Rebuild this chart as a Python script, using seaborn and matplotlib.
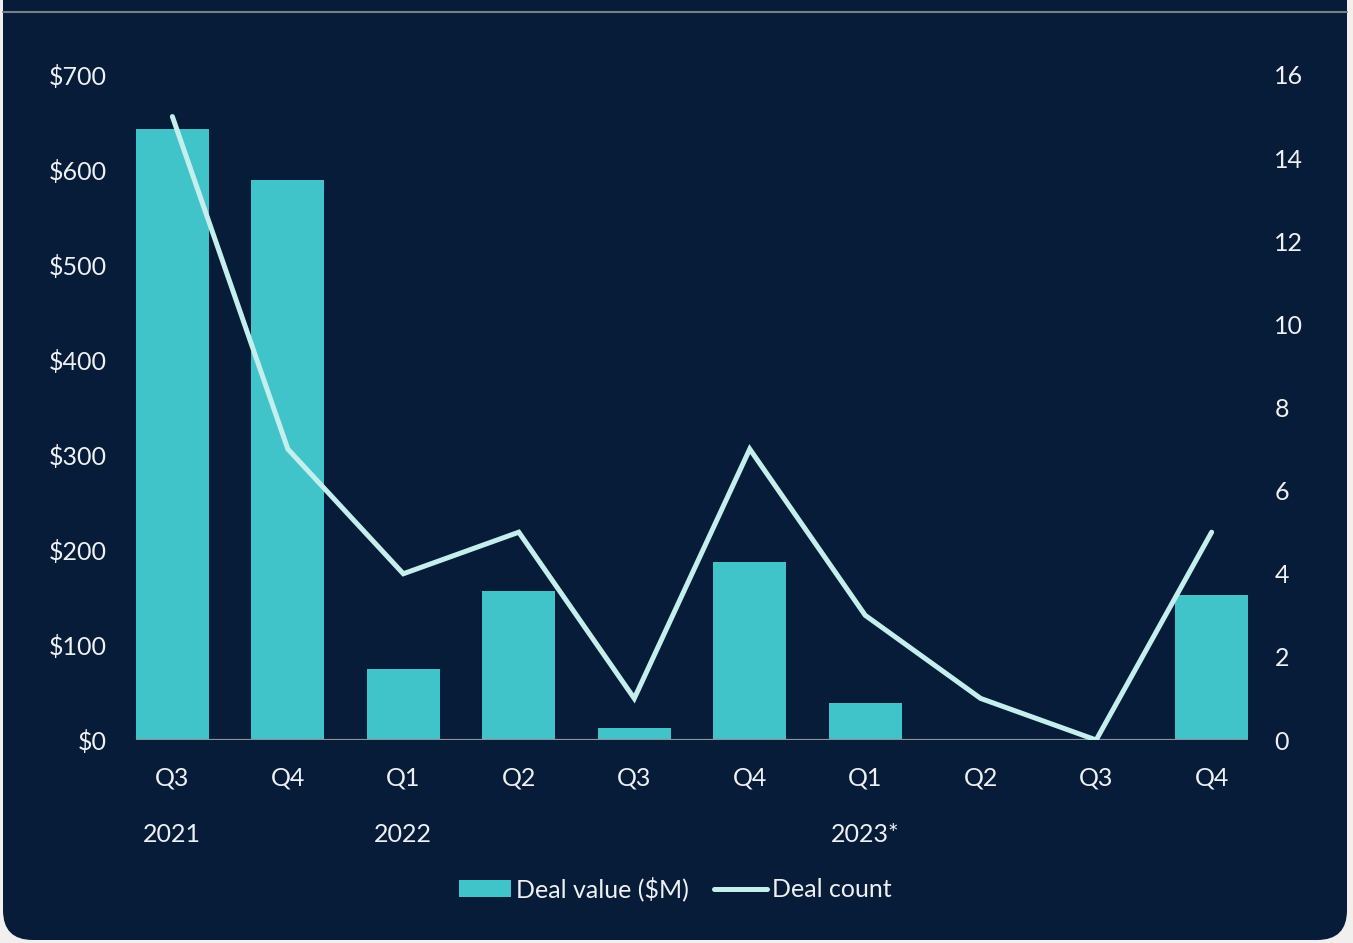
import matplotlib
matplotlib.use("Agg")
import matplotlib.pyplot as plt
from matplotlib.patches import FancyBboxPatch, Patch
from matplotlib.lines import Line2D
import matplotlib.transforms as mtransforms
import numpy as np
import pandas as pd
import seaborn as sns

# Quarterly deal data
quarters = ["Q3", "Q4", "Q1", "Q2", "Q3", "Q4", "Q1", "Q2", "Q3", "Q4"]
periods = ["2021 Q3", "2021 Q4", "2022 Q1", "2022 Q2", "2022 Q3",
           "2022 Q4", "2023 Q1", "2023 Q2", "2023 Q3", "2023 Q4"]
deal_value = [643, 589, 75, 157, 13, 187, 39, 0, 0, 153]
deal_count = [15, 7, 4, 5, 1, 7, 3, 1, 0, 5]
year_labels = ["2021", "2022", "2023*"]
year_positions = [0, 2, 6]
left_ticks = [0, 100, 200, 300, 400, 500, 600, 700]
right_ticks = [0, 2, 4, 6, 8, 10, 12, 14, 16]

df = pd.DataFrame({"period": periods, "value": deal_value,
                   "count": deal_count, "pos": np.arange(len(periods))})

BG = "#061c38"
BAR = "#40c3c9"
LINE = "#c5efed"
TXT = "#eef0f3"
OUTER = "#f1f0ee"

sns.set_theme(style="white")
plt.rcParams["font.family"] = ["Lato", "DejaVu Sans"]
plt.rcParams["font.weight"] = "normal"

W, H = 1353, 943
fig = plt.figure(figsize=(W / 100, H / 100), dpi=100, facecolor=OUTER)

# dark card with rounded bottom corners
card = FancyBboxPatch((3 / W, 3 / H), 1344 / W, 1.2,
                      boxstyle="round,pad=0,rounding_size=0.022",
                      transform=fig.transFigure, facecolor=BG,
                      edgecolor="none", zorder=-5,
                      mutation_aspect=W / H)
fig.patches.append(card)
fig.add_artist(Line2D([3 / W, 1347 / W], [1 - 12 / H, 1 - 12 / H],
                      transform=fig.transFigure, color="#7a7f86", lw=1.5))

left, right = 136 / W, 1248 / W
bottom, top = 1 - 740 / H, 1 - 75 / H
ax = fig.add_axes([left, bottom, right - left, top - bottom])
ax.set_facecolor("none")

sns.barplot(data=df, x="period", y="value", color=BAR, width=0.63,
            saturation=1, ax=ax, zorder=2, edgecolor="none", linewidth=0)
ax.set_xlim(-0.315, len(periods) - 1 + 0.315)
ax.set_ylim(0, 700)

ax2 = ax.twinx()
sns.lineplot(data=df, x="pos", y="count", color=LINE, lw=3.6, ax=ax2,
             zorder=3, solid_capstyle="round", solid_joinstyle="miter")
ax2.set_ylim(0, 16)
ax2.set_xlim(-0.315, len(periods) - 1 + 0.315)

for a in (ax, ax2):
    for s in a.spines.values():
        s.set_visible(False)
    a.set_xlabel("")
    a.set_ylabel("")

ax.axhline(0, color="#8d9198", lw=1.6, zorder=4)

fs = 18
ax.set_yticks(left_ticks)
ax.set_yticklabels([f"${v}" for v in left_ticks], color=TXT, fontsize=fs)
ax.tick_params(axis="y", length=0, pad=21)
ax2.set_yticks(right_ticks)
ax2.set_yticklabels([str(v) for v in right_ticks], color=TXT, fontsize=fs)
ax2.tick_params(axis="y", length=0, pad=19)

ax.set_xticks(range(len(quarters)))
ax.set_xticklabels(quarters, color=TXT, fontsize=fs)
ax.tick_params(axis="x", length=0, pad=19)

trans = mtransforms.blended_transform_factory(ax.transData, fig.transFigure)
for lbl, pos in zip(year_labels, year_positions):
    ax.text(pos, 1 - 834 / H, lbl, transform=trans, ha="center",
            va="center", color=TXT, fontsize=fs)

handles = [Patch(facecolor=BAR, edgecolor="none", label="Deal value ($M)"),
           Line2D([], [], color=LINE, lw=3.6, solid_capstyle="round",
                  label="Deal count")]
fig.legend(handles=handles, loc="center", bbox_to_anchor=(675 / W, 1 - 889 / H),
           ncol=2, frameon=False, fontsize=fs, labelcolor=TXT,
           handlelength=2.1, handleheight=0.7, handletextpad=0.2,
           columnspacing=1.0)

fig.savefig("out.png", dpi=100, facecolor=OUTER)
